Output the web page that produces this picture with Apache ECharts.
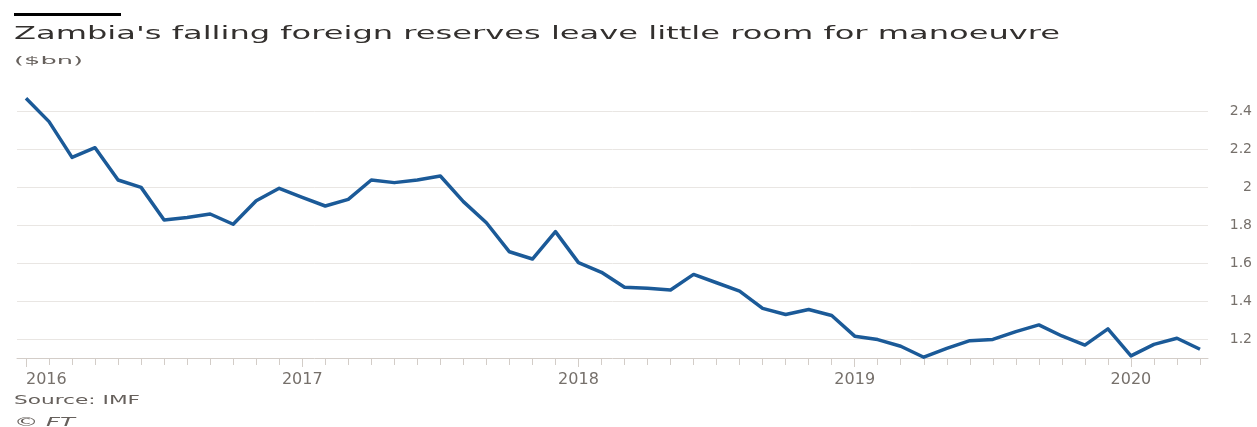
<!DOCTYPE html>
<html><head><meta charset="utf-8">
<script src="https://cdn.jsdelivr.net/npm/echarts@6/dist/echarts.min.js"></script>
<style>html,body{margin:0;padding:0;background:#fff}#c{width:1257px;height:427px}</style>
</head><body><div id="c"></div>
<script>
// ---- data ----
const months = [
  '2016-01','2016-02','2016-03','2016-04','2016-05','2016-06','2016-07','2016-08','2016-09','2016-10','2016-11','2016-12',
  '2017-01','2017-02','2017-03','2017-04','2017-05','2017-06','2017-07','2017-08','2017-09','2017-10','2017-11','2017-12',
  '2018-01','2018-02','2018-03','2018-04','2018-05','2018-06','2018-07','2018-08','2018-09','2018-10','2018-11','2018-12',
  '2019-01','2019-02','2019-03','2019-04','2019-05','2019-06','2019-07','2019-08','2019-09','2019-10','2019-11','2019-12',
  '2020-01','2020-02','2020-03','2020-04'
];
const reserves = [
  2.467, 2.344, 2.156, 2.207, 2.037, 1.998, 1.826, 1.840, 1.858, 1.804, 1.928, 1.993,
  1.946, 1.900, 1.935, 2.037, 2.023, 2.037, 2.058, 1.923, 1.812, 1.659, 1.621, 1.765,
  1.602, 1.551, 1.472, 1.467, 1.458, 1.540, 1.496, 1.452, 1.361, 1.329, 1.355, 1.324,
  1.215, 1.197, 1.162, 1.104, 1.151, 1.191, 1.198, 1.239, 1.274, 1.216, 1.168, 1.253,
  1.111, 1.172, 1.204, 1.146
];
const yearTicks = ['2016-01','2017-01','2018-01','2019-01','2020-01'];
const yMin = 1.1, yMax = 2.5, yStep = 0.2;

const titleText = "Zambia's falling foreign reserves leave little room for manoeuvre";
const unitText = '($bn)';
const sourceText = 'Source: IMF';
const creditText = '\u00A9 FT';

// ---- helpers for stretched text ----
const mctx = document.createElement('canvas').getContext('2d');
function fit(text, font, width) { mctx.font = font; return width / mctx.measureText(text).width; }

const TXT = '#33302e', GREY = '#66605c', AX = '#76706b', GRID = '#e9e6e3', TICK = '#d3cdc8';
const isYear = (i, v) => yearTicks.indexOf(v) >= 0;

const chart = echarts.init(document.getElementById('c'), null, {renderer: 'canvas'});
const titleFont = '18px "DejaVu Sans"';
const unitFont = '11px "DejaVu Sans"';
const srcFont = '13px "DejaVu Sans"';
const credFont = 'italic 13px "DejaVu Sans"';

chart.setOption({
  animation: false,
  backgroundColor: '#ffffff',
  grid: [
    {left: 26, right: 57, top: 92, bottom: 69},
    {left: 17, right: 49, top: 92, bottom: 69}
  ],
  xAxis: [
    {gridIndex: 0, type: 'category', data: months, boundaryGap: false,
     axisLine: {show: false},
     axisTick: {show: true, interval: 0, length: 7, lineStyle: {color: TICK, width: 1}},
     axisLabel: {show: false}, splitLine: {show: false}},
    {gridIndex: 0, type: 'category', data: months, boundaryGap: false, position: 'bottom',
     axisLine: {show: false},
     axisTick: {show: true, interval: isYear, length: 9, lineStyle: {color: TICK, width: 1}},
     axisLabel: {show: true, interval: isYear, formatter: v => v.slice(0, 4), alignMinLabel: 'left',
       margin: 14, fontFamily: 'DejaVu Sans', fontSize: 16, color: AX},
     splitLine: {show: false}},
    {gridIndex: 1, type: 'value', min: 0, max: 1, position: 'bottom',
     axisLine: {show: true, onZero: false, lineStyle: {color: TICK, width: 1}},
     axisTick: {show: false}, axisLabel: {show: false}, splitLine: {show: false}}
  ],
  yAxis: [
    {gridIndex: 0, type: 'value', min: yMin, max: yMax, show: false, splitLine: {show: false}},
    {gridIndex: 1, type: 'value', min: yMin, max: yMax, position: 'right',
     splitNumber: 7, minInterval: yStep, maxInterval: yStep,
     axisLine: {show: false}, axisTick: {show: false},
     splitLine: {show: true, showMinLine: false, showMaxLine: false, lineStyle: {color: GRID, width: 1}},
     axisLabel: {show: true, showMinLabel: false, showMaxLabel: false, margin: 44, align: 'right',
       fontFamily: 'DejaVu Sans', fontSize: 14, color: AX, padding: [3, 0, 0, 0],
       formatter: v => String(+v.toFixed(1))}}
  ],
  series: [{
    type: 'line', xAxisIndex: 0, yAxisIndex: 0, data: reserves,
    symbol: 'none', smooth: false, z: 5,
    lineStyle: {color: '#1b5a98', width: 3.5, join: 'round'}
  }],
  graphic: [
    {type: 'rect', shape: {x: 14, y: 13, width: 107, height: 3}, style: {fill: '#000'}},
    {type: 'text', x: 14, y: 34, scaleX: fit(titleText, titleFont, 1046),
     style: {text: titleText, font: titleFont, fill: TXT, align: 'left', verticalAlign: 'middle'}},
    {type: 'text', x: 14, y: 61.5, scaleX: fit(unitText, unitFont, 69),
     style: {text: unitText, font: unitFont, fill: GREY, align: 'left', verticalAlign: 'middle'}},
    {type: 'text', x: 14, y: 401, scaleX: fit(sourceText, srcFont, 126),
     style: {text: sourceText, font: srcFont, fill: GREY, align: 'left', verticalAlign: 'middle'}},
    {type: 'text', x: 14, y: 423, scaleX: fit(creditText, credFont, 61),
     style: {text: creditText, font: credFont, fill: GREY, align: 'left', verticalAlign: 'middle'}}
  ]
});
</script></body></html>
